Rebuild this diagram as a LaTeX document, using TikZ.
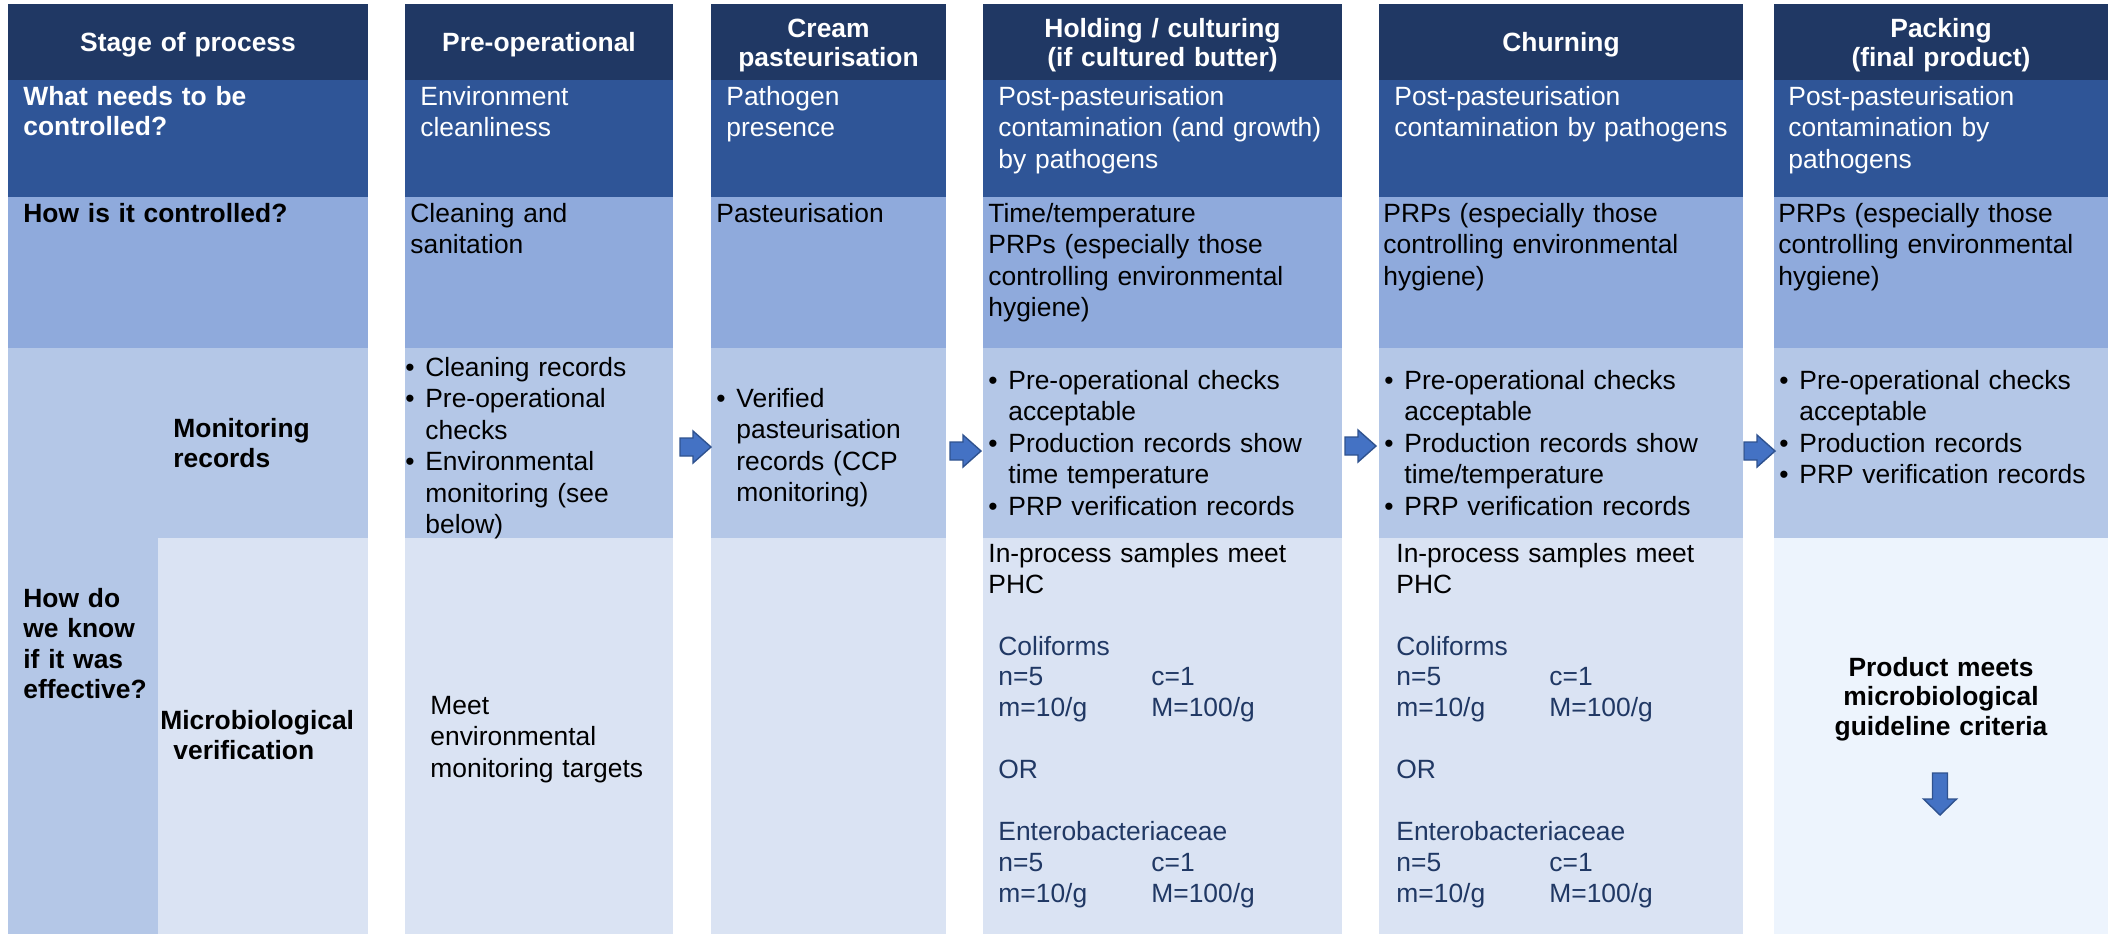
\documentclass[tikz,border=0pt]{standalone}
\usepackage{fontspec}
\setmainfont{Liberation Sans}
\definecolor{hdrblue}{RGB}{32,56,100}
\definecolor{whatblue}{RGB}{47,85,151}
\definecolor{howblue}{RGB}{143,170,220}
\definecolor{monblue}{RGB}{180,199,231}
\definecolor{verblue}{RGB}{218,227,243}
\definecolor{paleblue}{RGB}{237,244,253}
\definecolor{arrowfill}{RGB}{68,114,196}
\definecolor{arrowline}{RGB}{47,82,143}
\definecolor{critblue}{RGB}{32,56,100}
\newcommand{\itembul}{\makebox[10pt][l]{\textbullet}}
\newcommand{\itemind}{\hspace*{10pt}}
\newcommand{\crit}[2]{\makebox[76.5pt][l]{#1}#2}

\begin{document}
\begin{tikzpicture}
[x=0.5pt, y=-0.5pt,
cell/.style={rectangle, inner sep=0pt, outer sep=0pt, anchor=north west},
hdr/.style={cell, fill=hdrblue, minimum height=38pt},
what/.style={cell, fill=whatblue, minimum height=58.5pt},
how/.style={cell, fill=howblue, minimum height=75.5pt},
mon/.style={cell, fill=monblue, minimum height=95pt},
ver/.style={cell, fill=verblue, minimum height=198pt},
htext/.style={anchor=base, inner sep=0pt, text width=170pt, align=center, text=white, font=\fontsize{13.2pt}{14.75pt}\selectfont\bfseries},
body/.style={anchor=base west, inner sep=0pt, text width=200pt, align=left, font=\fontsize{13.2pt}{15.75pt}\selectfont},
rowlabel/.style={body, font=\fontsize{13.2pt}{15.25pt}\selectfont\bfseries},
critline/.style={body, text=critblue, font=\fontsize{13.2pt}{15.45pt}\selectfont},
blockarrow/.style={fill=arrowfill, draw=arrowline, line width=0.7pt, line join=miter},
rarrow/.pic={\path[blockarrow] (0,-9) -- (13,-9) -- (13,-16) -- (31,0) -- (13,16) -- (13,9) -- (0,9) -- cycle;},
darrow/.pic={\path[blockarrow] (-7.5,0) -- (7.5,0) -- (7.5,26) -- (16.5,26) -- (0,42) -- (-16.5,26) -- (-7.5,26) -- cycle;}]

\useasboundingbox (0,0) rectangle (2114,934);
\fill[white] (0,0) rectangle (2114,934);

% header row
\node[hdr, minimum width=180pt] (h1) at (8,4) {};
\node[hdr, minimum width=134pt] (h2) at (405,4) {};
\node[hdr, minimum width=117.5pt] (h3) at (711,4) {};
\node[hdr, minimum width=179.5pt] (h4) at (983,4) {};
\node[hdr, minimum width=182pt] (h5) at (1379,4) {};
\node[hdr, minimum width=167pt] (h6) at (1774,4) {};

% what needs to be controlled
\node[what, minimum width=180pt] (w1) at (8,80) {};
\node[what, minimum width=134pt] (w2) at (405,80) {};
\node[what, minimum width=117.5pt] (w3) at (711,80) {};
\node[what, minimum width=179.5pt] (w4) at (983,80) {};
\node[what, minimum width=182pt] (w5) at (1379,80) {};
\node[what, minimum width=167pt] (w6) at (1774,80) {};

% how is it controlled
\node[how, minimum width=180pt] (c1) at (8,197) {};
\node[how, minimum width=134pt] (c2) at (405,197) {};
\node[how, minimum width=117.5pt] (c3) at (711,197) {};
\node[how, minimum width=179.5pt] (c4) at (983,197) {};
\node[how, minimum width=182pt] (c5) at (1379,197) {};
\node[how, minimum width=167pt] (c6) at (1774,197) {};

% monitoring records
\node[cell, fill=monblue, minimum width=75pt, minimum height=293pt] (k1) at (8,348) {};
\node[mon, minimum width=105pt] (r1) at (158,348) {};
\node[mon, minimum width=134pt] (r2) at (405,348) {};
\node[mon, minimum width=117.5pt] (r3) at (711,348) {};
\node[mon, minimum width=179.5pt] (r4) at (983,348) {};
\node[mon, minimum width=182pt] (r5) at (1379,348) {};
\node[mon, minimum width=167pt] (r6) at (1774,348) {};

% microbiological verification
\node[ver, minimum width=105pt] (v1) at (158,538) {};
\node[ver, minimum width=134pt] (v2) at (405,538) {};
\node[ver, minimum width=117.5pt] (v3) at (711,538) {};
\node[ver, minimum width=179.5pt] (v4) at (983,538) {};
\node[ver, minimum width=182pt] (v5) at (1379,538) {};
\node[ver, fill=paleblue, minimum width=167pt] (v6) at (1774,538) {};

% header texts
\node[htext] (th1) at (188,51) {Stage of process};
\node[htext] (th2) at (539,51) {Pre-operational};
\node[htext] (th3) at (828.5,37) {Cream\\pasteurisation};
\node[htext] (th4) at (1162.5,37) {Holding / culturing\\(if cultured butter)};
\node[htext] (th5) at (1561,51) {Churning};
\node[htext] (th6) at (1941,37) {Packing\\(final product)};

% row texts
\node[rowlabel, text=white] (tw1) at (23,105) {What needs to be\\controlled?};
\node[body, text=white] (tw2) at (420,105) {Environment\\cleanliness};
\node[body, text=white] (tw3) at (726,105) {Pathogen\\presence};
\node[body, text=white] (tw4) at (998,105) {Post-pasteurisation\\contamination (and growth)\\by pathogens};
\node[body, text=white] (tw5) at (1394,105) {Post-pasteurisation\\contamination by pathogens};
\node[body, text=white] (tw6) at (1788,105) {Post-pasteurisation\\contamination by\\pathogens};

\node[rowlabel] (tc1) at (23,222) {How is it controlled?};
\node[body] (tc2) at (410,222) {Cleaning and\\sanitation};
\node[body] (tc3) at (716,222) {Pasteurisation};
\node[body] (tc4) at (988,222) {Time/temperature\\PRPs (especially those\\controlling environmental\\hygiene)};
\node[body] (tc5) at (1383,222) {PRPs (especially those\\controlling environmental\\hygiene)};
\node[body] (tc6) at (1778,222) {PRPs (especially those\\controlling environmental\\hygiene)};

\node[rowlabel] (tk1) at (23,607) {How do\\we know\\if it was\\effective?};
\node[rowlabel] (tr1) at (173,437) {Monitoring\\records};
\node[body] (tr2) at (405,376) {\itembul Cleaning records\\\itembul Pre-operational\\\itemind checks\\\itembul Environmental\\\itemind monitoring (see\\\itemind below)};
\node[body] (tr3) at (716,407) {\itembul Verified\\\itemind pasteurisation\\\itemind records (CCP\\\itemind monitoring)};
\node[body] (tr4) at (988,389) {\itembul Pre-operational checks\\\itemind acceptable\\\itembul Production records show\\\itemind time temperature\\\itembul PRP verification records};
\node[body] (tr5) at (1384,389) {\itembul Pre-operational checks\\\itemind acceptable\\\itembul Production records show\\\itemind time/temperature\\\itembul PRP verification records};
\node[body] (tr6) at (1779,389) {\itembul Pre-operational checks\\\itemind acceptable\\\itembul Production records\\\itembul PRP verification records};

\node[rowlabel] (tv1) at (160,729) {Microbiological\\\hspace*{6.5pt}verification};
\node[body] (tv2) at (430,714) {Meet\\environmental\\monitoring targets};
\node[body] (tp4) at (988,562) {In-process samples meet\\PHC};
\node[critline] (tq4) at (998,655) {Coliforms\\\crit{n=5}{c=1}\\\crit{m=10/g}{M=100/g}\\[15.45pt]OR\\[15.45pt]Enterobacteriaceae\\\crit{n=5}{c=1}\\\crit{m=10/g}{M=100/g}};
\node[body] (tp5) at (1396,562) {In-process samples meet\\PHC};
\node[critline] (tq5) at (1396,655) {Coliforms\\\crit{n=5}{c=1}\\\crit{m=10/g}{M=100/g}\\[15.45pt]OR\\[15.45pt]Enterobacteriaceae\\\crit{n=5}{c=1}\\\crit{m=10/g}{M=100/g}};
\node[htext, text=black, text width=160pt] (tv6) at (1941,676) {Product meets\\microbiological\\guideline criteria};

% block arrows
\pic at (680,447) {rarrow};
\pic at (950,451) {rarrow};
\pic at (1345,446) {rarrow};
\pic at (1744,451) {rarrow};
\pic at (1940,773) {darrow};

\end{tikzpicture}
\end{document}
